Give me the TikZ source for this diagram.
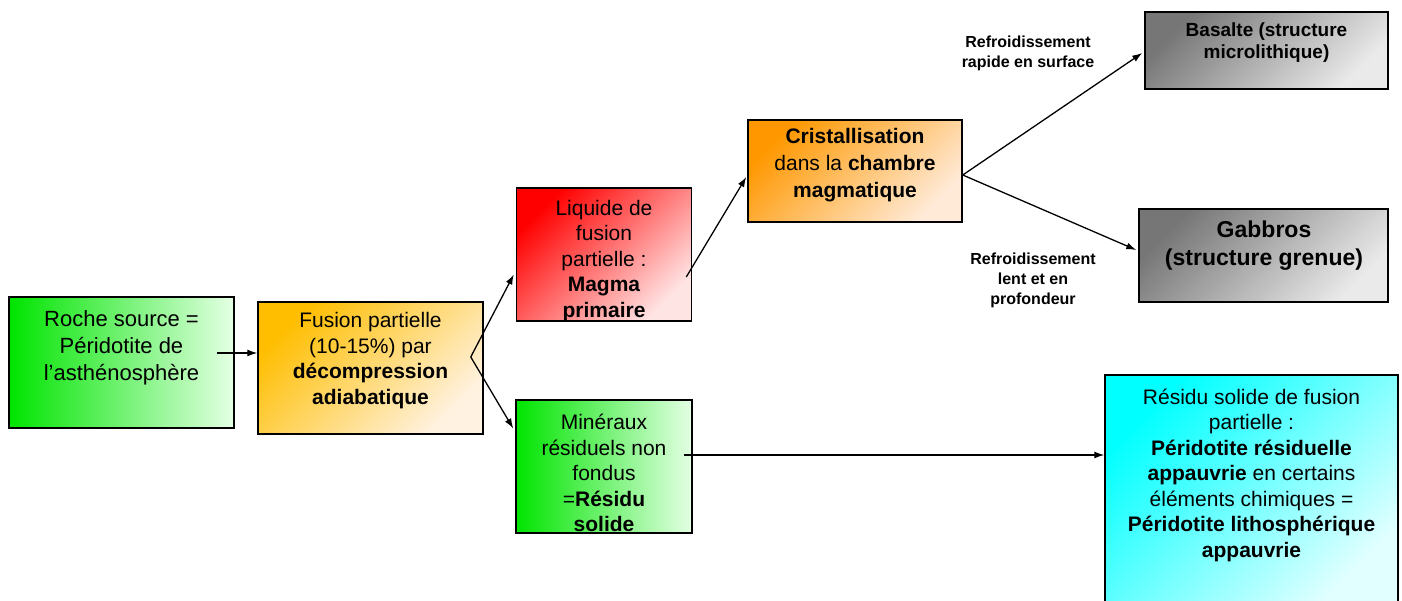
\documentclass[tikz,border=0pt]{standalone}
\usepackage{fontspec}
\setmainfont{Liberation Sans}
\usetikzlibrary{arrows.meta,calc}
\definecolor{gA}{RGB}{0,228,0}
\definecolor{gB}{RGB}{228,255,228}
\definecolor{oA}{RGB}{255,190,0}
\definecolor{oB}{RGB}{255,242,225}
\definecolor{rA}{RGB}{255,0,0}
\definecolor{rB}{RGB}{255,228,228}
\definecolor{pA}{RGB}{255,152,0}
\definecolor{pB}{RGB}{255,234,215}
\definecolor{kA}{RGB}{118,118,118}
\definecolor{kB}{RGB}{234,234,234}
\definecolor{cA}{RGB}{0,255,255}
\definecolor{cB}{RGB}{226,255,255}
\begin{document}
\begin{tikzpicture}[x=1pt,y=-1pt,
  box/.style={draw=black,line width=1.5pt,inner sep=0pt},
  diag/.style 2 args={box,top color=#1,bottom color=#2,shading angle=45},
  horiz/.style 2 args={box,left color=#1,right color=#2},
  txt/.style={align=center,font=\fontsize{21}{25.5}\selectfont,inner sep=0pt},
  lbl/.style={align=center,font=\fontsize{16}{20}\selectfont\bfseries,inner sep=0pt},
  arr/.style={line width=1.3pt,-{Latex[length=10pt,width=7pt]}}]
\useasboundingbox (0,0) rectangle (1402,601);
% boxes
\node[horiz={gA}{gB},minimum width=225pt,minimum height=131pt] (b1) at (121.5,362.5) {};
\node[diag={oA}{oB},minimum width=225pt,minimum height=132pt] (b2) at (370.5,368) {};
\node[diag={rA}{rB},minimum width=175pt,minimum height=133pt] (b3) at (604,254.5) {};
\node[horiz={gA}{gB},minimum width=176pt,minimum height=133pt] (b4) at (604,466.5) {};
\node[diag={pA}{pB},minimum width=214pt,minimum height=102pt] (b5) at (855,171) {};
\node[diag={kA}{kB},minimum width=243pt,minimum height=77pt] (b6) at (1266.5,50.5) {};
\node[diag={kA}{kB},minimum width=249pt,minimum height=93pt] (b7) at (1263.5,255.5) {};
\node[diag={cA}{cB},minimum width=293pt,minimum height=231pt] (b8) at (1251.5,490.5) {};
% texts
\node[txt,font=\fontsize{22}{27}\selectfont] (t1) at (121.5,348) {Roche source =\\Péridotite de\\l’asthénosphère};
\node[txt] (t2) at (370.5,360.5) {Fusion partielle\\(10-15\%) par\\\textbf{décompression}\\\textbf{adiabatique}};
\node[txt] (t3) at (604,261) {Liquide de\\fusion\\partielle :\\\textbf{Magma}\\\textbf{primaire}};
\node[txt] (t4) at (604,473) {Minéraux\\résiduels non\\fondus\\=\textbf{Résidu}\\\textbf{solide}};
\node[txt,font=\fontsize{21}{27}\selectfont] (t5) at (855,165) {\textbf{Cristallisation}\\dans la \textbf{chambre}\\\textbf{magmatique}};
\node[txt,font=\fontsize{19}{21.5}\selectfont\bfseries] (t6) at (1266.5,42.5) {Basalte (structure\\microlithique)};
\node[txt,font=\fontsize{23}{28}\selectfont\bfseries] (t7) at (1264,246) {Gabbros\\(structure grenue)};
\node[txt] (t8) at (1251.5,475) {Résidu solide de fusion\\partielle :\\\textbf{Péridotite résiduelle}\\\textbf{appauvrie} en certains\\éléments chimiques =\\\textbf{Péridotite lithosphérique}\\\textbf{appauvrie}};
% labels
\node[lbl] (l1) at (1028,53) {Refroidissement\\rapide en surface};
\node[lbl] (l2) at (1033,280) {Refroidissement\\lent et en\\profondeur};
% connectors
\coordinate (s1) at ($(b1.east)+(-18,-9.5)$);
\draw[arr] (s1) -- (s1 -| b2.west);
\coordinate (s2) at ($(b2.east)+(-13,-11)$);
\draw[arr] (s2) -- ($(b3.west)+(-2,20)$);
\draw[arr] (s2) -- ($(b4.west)+(-2,-38)$);
\coordinate (s3) at ($(b3.east)+(-6,22.5)$);
\draw[arr] (s3) -- ($(b5.west)+(-1,6)$);
\coordinate (s4) at ($(b5.east)+(0,4)$);
\draw[arr] (s4) -- ($(b6.west)+(-2,2.5)$);
\draw[arr] (s4) -- ($(b7.west)+(-2,-5.5)$);
\coordinate (s5) at ($(b4.east)+(-9,-11.5)$);
\draw[arr] (s5) -- (s5 -| b8.west);
\end{tikzpicture}
\end{document}
